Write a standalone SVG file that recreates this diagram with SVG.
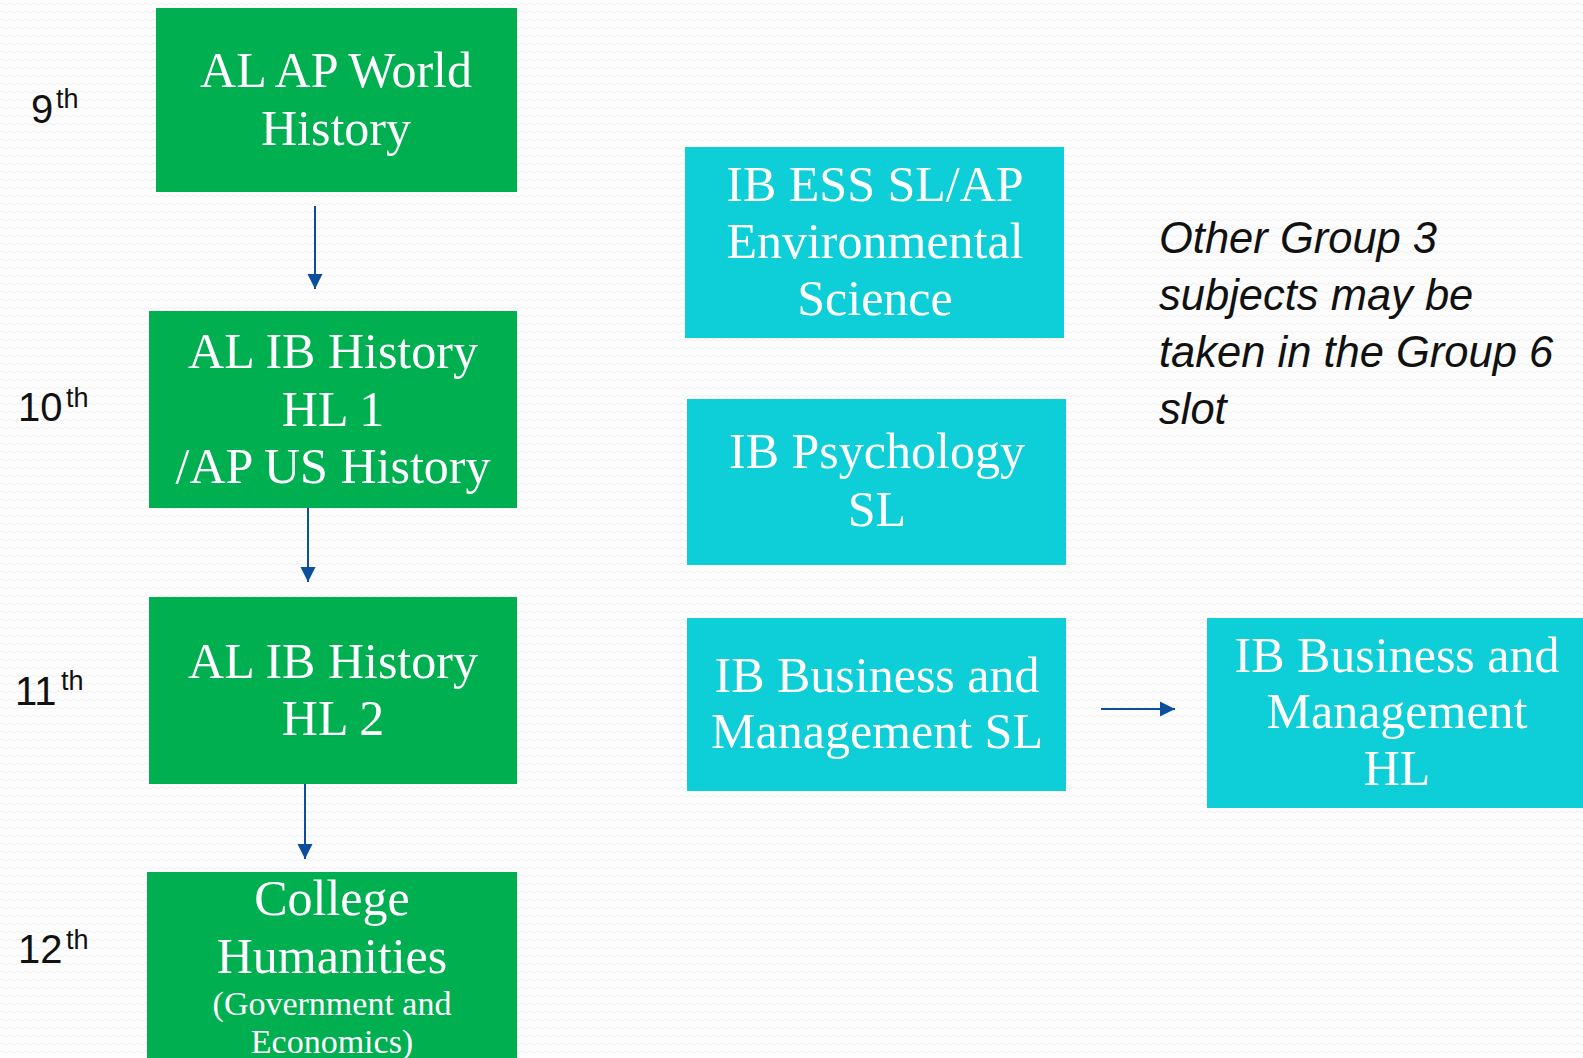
<svg xmlns="http://www.w3.org/2000/svg" width="1583" height="1058" viewBox="0 0 1583 1058">
<defs>
<pattern id="bgwave" width="8" height="8" patternUnits="userSpaceOnUse">
<rect width="8" height="8" fill="#fdfdfd"/>
<path d="M0 4 Q2 2 4 4 T8 4" fill="none" stroke="#efefef" stroke-width="1"/>
</pattern>
<marker id="ah" markerUnits="userSpaceOnUse" markerWidth="16" markerHeight="16" refX="15" refY="8" orient="auto">
<path d="M0,0.5 L15,8 L0,15.5 z" fill="#0b4f9c"/>
</marker>
</defs>
<style>
.g{fill:#00af50}
.c{fill:#0ecfd8}
.t{font-family:"Liberation Serif","Times New Roman",serif;fill:#ffffff;text-anchor:middle;font-size:50px}
.ts{font-size:34px}
.gr{font-family:"Liberation Sans",Arial,sans-serif;font-size:40px;fill:#111111}
.sup{font-size:27px}
.note{font-family:"Liberation Sans",Arial,sans-serif;font-style:italic;font-size:43.5px;fill:#111111}
.ln{stroke:#0b4f9c;stroke-width:2;fill:none}
</style>
<rect width="1583" height="1058" fill="url(#bgwave)"/>

<g id="grades">
<text class="gr" x="31" y="123">9<tspan class="sup" x="56" y="108">th</tspan></text>
<text class="gr" x="18" y="421">10<tspan class="sup" x="66" y="407">th</tspan></text>
<text class="gr" x="15" y="705">11<tspan class="sup" x="61" y="690">th</tspan></text>
<text class="gr" x="18" y="963">12<tspan class="sup" x="66" y="949">th</tspan></text>
</g>

<g id="node-ap-world">
<rect class="g" x="156" y="8" width="361" height="184"/>
<text class="t"><tspan x="336" y="87">AL AP World</tspan><tspan x="336" y="145">History</tspan></text>
</g>

<g id="node-ib-hl1">
<rect class="g" x="149" y="311" width="368" height="197"/>
<text class="t"><tspan x="333" y="368">AL IB History</tspan><tspan x="333" y="426">HL 1</tspan><tspan x="333" y="483">/AP US History</tspan></text>
</g>

<g id="node-ib-hl2">
<rect class="g" x="149" y="597" width="368" height="187"/>
<text class="t"><tspan x="333" y="678">AL IB History</tspan><tspan x="333" y="735">HL 2</tspan></text>
</g>

<g id="node-college">
<rect class="g" x="147" y="872" width="370" height="190"/>
<text class="t"><tspan x="332" y="915">College</tspan><tspan x="332" y="973">Humanities</tspan></text>
<text class="t ts"><tspan x="332" y="1015">(Government and</tspan><tspan x="332" y="1053">Economics)</tspan></text>
</g>

<g id="node-ess">
<rect class="c" x="685" y="147" width="379" height="191"/>
<text class="t"><tspan x="875" y="201">IB ESS SL/AP</tspan><tspan x="875" y="258">Environmental</tspan><tspan x="875" y="315">Science</tspan></text>
</g>

<g id="node-psych">
<rect class="c" x="687" y="399" width="379" height="166"/>
<text class="t"><tspan x="877" y="468">IB Psychology</tspan><tspan x="877" y="526">SL</tspan></text>
</g>

<g id="node-bm-sl">
<rect class="c" x="687" y="618" width="379" height="173"/>
<text class="t"><tspan x="877" y="692">IB Business and</tspan><tspan x="877" y="748">Management SL</tspan></text>
</g>

<g id="node-bm-hl">
<rect class="c" x="1207" y="618" width="376" height="190"/>
<text class="t"><tspan x="1397" y="672">IB Business and</tspan><tspan x="1397" y="728">Management</tspan><tspan x="1397" y="785">HL</tspan></text>
</g>

<g id="note">
<text class="note"><tspan x="1159" y="253">Other Group 3</tspan><tspan x="1159" y="310">subjects may be</tspan><tspan x="1159" y="367">taken in the Group 6</tspan><tspan x="1159" y="424">slot</tspan></text>
</g>

<g id="connectors">
<line class="ln" x1="315" y1="206" x2="315" y2="289" marker-end="url(#ah)"/>
<line class="ln" x1="308" y1="508" x2="308" y2="582" marker-end="url(#ah)"/>
<line class="ln" x1="305" y1="784" x2="305" y2="859" marker-end="url(#ah)"/>
<line class="ln" x1="1101" y1="709" x2="1175" y2="709" marker-end="url(#ah)"/>
</g>
</svg>
